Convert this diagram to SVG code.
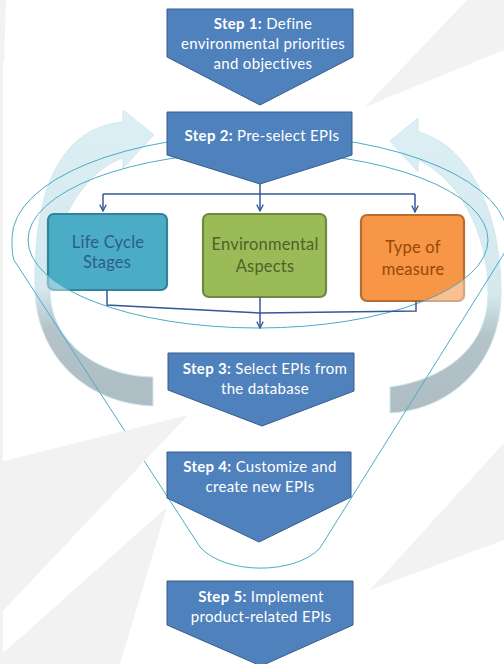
<svg xmlns="http://www.w3.org/2000/svg" width="504" height="664" viewBox="0 0 504 664">
<style>
.ray{fill:#F2F2F2}
.thin{fill:none;stroke:#4BACC6;stroke-width:1}
.step{fill:#4F81BD;stroke:#385D8A;stroke-width:1}
.st{font-family:Lato,"Open Sans","Liberation Sans",sans-serif;font-size:15px;letter-spacing:0.3px;fill:#FFFFFF;text-anchor:middle}
.st tspan.b{font-weight:bold}
.bx{font-family:Lato,"Open Sans","Liberation Sans",sans-serif;font-size:16.5px;letter-spacing:0.2px;text-anchor:middle}
.conn{fill:none;stroke:#34589A;stroke-width:1.5}
.big{stroke:#D3E8EF;stroke-width:1}
</style>
<defs>
<linearGradient id="gArr" x1="0" y1="0" x2="0" y2="1">
<stop offset="0" stop-color="#DCEFF4"/>
<stop offset="0.6" stop-color="#D4E8EE"/>
<stop offset="0.74" stop-color="#B3C3C9"/>
<stop offset="1" stop-color="#ADBDC3"/>
</linearGradient>
<marker id="ah" viewBox="0 0 10 10" refX="9" refY="5" markerWidth="8" markerHeight="8" markerUnits="userSpaceOnUse" orient="auto">
<path d="M1 1 L9 5 L1 9" fill="none" stroke="#34589A" stroke-width="1.6"/>
</marker>
<clipPath id="outEll">
<path clip-rule="evenodd" d="M0 0 H504 V664 H0 Z M28 240 A230 88 0 1 0 488 240 A230 88 0 1 0 28 240 Z"/>
</clipPath>
</defs>
<rect width="504" height="664" fill="#FFFFFF"/>
<g id="background">
<rect class="ray" x="0" y="0" width="3" height="664"/>
<polygon class="ray" points="0,0 6,0 4,62 0,62"/>
</g>
<g id="cycle-arrows">
<path id="arrow-left" class="big" fill="url(#gArr)" d="M153 377 C95 376 50 340 50 290 C50 225 85 170 123 158 L123 168 L154 135 L123 110 L123 122 C60 128 33 190 35 290 C37 360 90 404 153 406 Z"/>
<path id="arrow-right" class="big" fill="url(#gArr)" d="M390 387 C442 380 487 350 488 295 C489 232 458 178 418 160 L418 172 L390 141 L418 118 L418 132 C470 145 502 215 501 295 C500 365 450 410 390 413 Z"/>
</g>
<path id="funnel" class="thin" d="M12 237 A248 104 0 0 1 508 240 C508 245 507 249 505 252 L320 548 C295 575 225 575 200 547 L14 260 C12 255 12 245 12 237 Z"/>
<g id="rays">
<polygon class="ray" points="365,107 467,0 504,0 504,50"/>
<polygon class="ray" points="188,415 0,462 0,614"/>
<polygon class="ray" points="167,507 0,656 0,664 120,664"/>
<polygon class="ray" points="370,590 504,443 504,540"/>
</g>
<g id="life-cycle">
<rect x="48" y="214" width="119" height="76" rx="6" fill="#4BACC6" stroke="#31849B" stroke-width="2.2"/>
<text class="bx" fill="#2E5C8A"><tspan x="108" y="248">Life Cycle</tspan><tspan x="107" y="268">Stages</tspan></text>
</g>
<g id="environmental">
<rect x="203" y="214" width="123" height="83" rx="6" fill="#9BBB59" stroke="#71893F" stroke-width="2.2"/>
<text class="bx" fill="#4F6228"><tspan x="265" y="250">Environmental</tspan><tspan x="265" y="272">Aspects</tspan></text>
</g>
<g id="type-measure">
<rect x="361" y="215" width="103" height="86" rx="6" fill="#F79646" stroke="#B66D31" stroke-width="2.2"/>
<text class="bx" fill="#984807"><tspan x="413" y="253">Type of</tspan><tspan x="413" y="275">measure</tspan></text>
</g>
<g id="ring-overlay" clip-path="url(#outEll)" fill="#FFFFFF" fill-opacity="0.4">
<rect x="47" y="213" width="121" height="78" rx="6"/>
<rect x="360" y="214" width="105" height="88" rx="6"/>
</g>
<path id="ring" class="thin" d="M28 240 A230 88 0 1 0 488 240 A230 88 0 1 0 28 240 Z"/>
<g id="connectors">
<path class="conn" d="M260 184 V194 M103 194 H415"/>
<path class="conn" d="M103 194 V211" marker-end="url(#ah)"/>
<path class="conn" d="M260 194 V211" marker-end="url(#ah)"/>
<path class="conn" d="M415 194 V212" marker-end="url(#ah)"/>
<path class="conn" d="M107 290 V305 L260 313 M416 301 V311 L260 313"/>
<path class="conn" d="M260 297 V328" marker-end="url(#ah)"/>
</g>
<g id="step1">
<polygon class="step" points="167,9 353,9 353,57 260,105 167,57"/>
<text class="st"><tspan x="263" y="29"><tspan class="b">Step 1:</tspan> Define</tspan><tspan x="263" y="49">environmental priorities</tspan><tspan x="263" y="69">and objectives</tspan></text>
</g>
<g id="step2">
<polygon class="step" points="167,112 352,112 352,155 260,184 167,155"/>
<text class="st"><tspan x="262" y="141"><tspan class="b">Step 2:</tspan> Pre-select EPIs</tspan></text>
</g>
<g id="step3">
<polygon class="step" points="168,353 354,353 354,391 262,426 168,390"/>
<text class="st"><tspan x="265" y="374"><tspan class="b">Step 3:</tspan> Select EPIs from</tspan><tspan x="265" y="394">the database</tspan></text>
</g>
<g id="step4">
<polygon class="step" points="167,452 351,452 351,497 259,542 167,498"/>
<text class="st"><tspan x="260" y="472"><tspan class="b">Step 4:</tspan> Customize and</tspan><tspan x="260" y="492">create new EPIs</tspan></text>
</g>
<g id="step5">
<polygon class="step" points="167,581 353,581 353,625 261,666 167,625"/>
<text class="st"><tspan x="261" y="602"><tspan class="b">Step 5:</tspan> Implement</tspan><tspan x="261" y="622">product-related EPIs</tspan></text>
</g>
</svg>
